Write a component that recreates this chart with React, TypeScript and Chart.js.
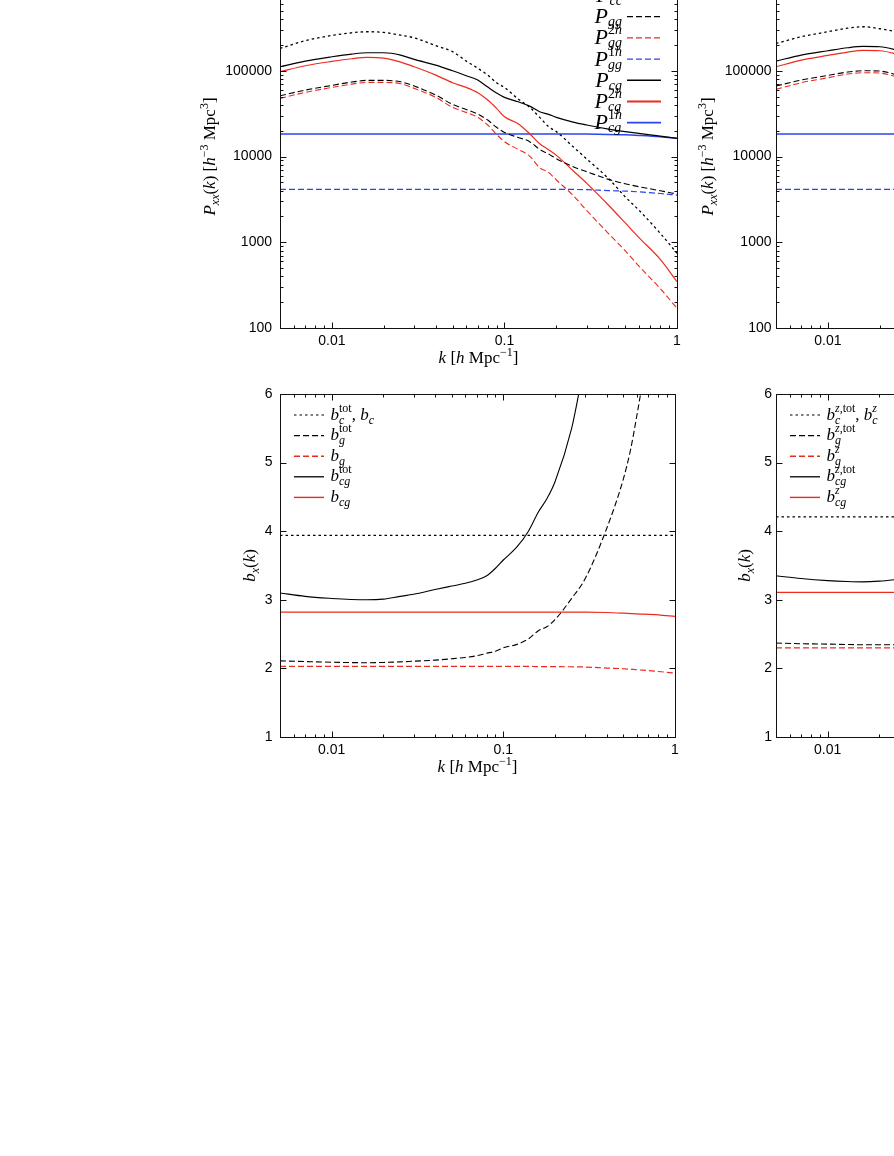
import React, { useEffect, useRef } from 'react';
import { Chart, registerables } from 'chart.js';

Chart.register(...registerables);

const SERIF = '"Liberation Serif", "DejaVu Serif", serif';
const SANS = '"Liberation Sans", Arial, sans-serif';

// ---------------- data: top-left power spectra ----------------
const kGrid = [0.005, 0.007, 0.01, 0.013, 0.016, 0.02, 0.025, 0.03, 0.04, 0.05, 0.06, 0.07, 0.08, 0.09, 0.1, 0.12, 0.14, 0.16, 0.18, 0.2, 0.25, 0.3, 0.4, 0.5, 0.6, 0.8, 1.0];
const Pcc = [182000, 224000, 258000, 277000, 285000, 280000, 260000, 242000, 196000, 167000, 130000, 107000, 89000, 72500, 63900, 46800, 37400, 28600, 22300, 19500, 13000, 9340, 5560, 3400, 2380, 1270, 743];
const Pgg = [51100, 59500, 67500, 73800, 77200, 77200, 74400, 66300, 52000, 40500, 35400, 31300, 26600, 21900, 19100, 16700, 14900, 12100, 10700, 9430, 7600, 6650, 5410, 4820, 4450, 3990, 3650];
const Pgg2h = [47600, 55900, 63900, 69900, 73100, 73100, 70600, 62300, 48900, 37400, 32700, 28600, 23300, 18100, 14900, 12100, 10100, 7400, 6530, 5320, 3520, 2340, 1270, 800, 530, 288, 170];
const Pcg = [111300, 129600, 145600, 156400, 162100, 162100, 152300, 135600, 116400, 100000, 87500, 77900, 64500, 55000, 48900, 43500, 38700, 33300, 31000, 28600, 25200, 23300, 20900, 19500, 18600, 17300, 16300];
const Pcg2h = [97400, 114400, 128500, 138000, 143000, 140500, 126200, 111300, 89000, 72500, 63900, 55400, 45500, 36400, 29100, 24100, 18400, 14100, 12000, 10300, 6830, 4860, 2720, 1690, 1140, 632, 347];
const k1h = [0.005, 0.05, 0.1, 0.2, 0.3, 0.4, 0.5, 0.6, 0.8, 1.0];
const Pgg1h = [4140, 4140, 4140, 4140, 4100, 4000, 3950, 3870, 3700, 3540];
const Pcg1h = [18300, 18300, 18300, 18300, 18250, 18100, 17900, 17600, 17000, 16300];

// ---------------- data: top-right (visible part) ----------------
const kRight = [0.005, 0.007, 0.01, 0.013, 0.016, 0.02, 0.025, 0.03];
const kRightFlat = [0.005, 0.03];
const PzCc = [208000, 249000, 285000, 314000, 326000, 309000, 285000, 260000];
const PzGg = [66300, 77900, 88200, 96500, 100000, 99100, 89800, 80700];
const PzGg2h = [60600, 72500, 82900, 91500, 94800, 93900, 85100, 76500];
const PzGg1h = [4140, 4140];
const PzCg = [129600, 152300, 171100, 185400, 192100, 190400, 174100, 156400];
const PzCg2h = [111300, 133100, 150900, 165000, 172600, 171100, 156400, 139200];
const PzCg1h = [18300, 18300];

// ---------------- data: bottom-left bias ----------------
const kBc = [0.005, 1.0];
const bC = [3.94, 3.94];
const kBgTot = [0.005, 0.007, 0.01, 0.013, 0.016, 0.02, 0.025, 0.03, 0.04, 0.05, 0.06, 0.07, 0.08, 0.09, 0.1, 0.12, 0.14, 0.16, 0.18, 0.2, 0.25, 0.3, 0.4, 0.5, 0.55, 0.6, 0.65];
const bGTot = [2.11, 2.1, 2.09, 2.085, 2.083, 2.087, 2.095, 2.105, 2.12, 2.14, 2.16, 2.185, 2.22, 2.25, 2.3, 2.35, 2.43, 2.55, 2.61, 2.71, 3.02, 3.31, 4.04, 4.76, 5.18, 5.69, 6.2];
const kBflat = [0.005, 0.05, 0.1, 0.2, 0.3, 0.4, 0.5, 0.6, 0.8, 1.0];
const bG = [2.03, 2.03, 2.03, 2.025, 2.02, 2.005, 1.995, 1.98, 1.955, 1.93];
const kBcgTot = [0.005, 0.007, 0.01, 0.013, 0.016, 0.02, 0.025, 0.03, 0.04, 0.05, 0.06, 0.07, 0.08, 0.09, 0.1, 0.12, 0.14, 0.16, 0.18, 0.2, 0.25, 0.28];
const bCgTot = [3.1, 3.05, 3.02, 3.005, 3.0, 3.01, 3.05, 3.08, 3.15, 3.2, 3.24, 3.29, 3.35, 3.46, 3.58, 3.77, 4.0, 4.28, 4.48, 4.72, 5.5, 6.1];
const bCg = [2.82, 2.82, 2.82, 2.82, 2.82, 2.815, 2.805, 2.795, 2.78, 2.757];

// ---------------- data: bottom-right (visible part) ----------------
const bzC = [4.21, 4.21];
const bzGTot = [2.37, 2.36, 2.354, 2.348, 2.345, 2.345, 2.345, 2.347];
const bzG = [2.3, 2.3];
const bzCgTot = [3.35, 3.31, 3.28, 3.267, 3.262, 3.272, 3.296, 3.32];
const bzCg = [3.107, 3.107];

// ---------------- ticks ----------------
const xMajor = [0.01, 0.1, 1];
const xMinor = [0.006, 0.007, 0.008, 0.009, 0.02, 0.03, 0.04, 0.05, 0.06, 0.07, 0.08, 0.09, 0.2, 0.3, 0.4, 0.5, 0.6, 0.7, 0.8, 0.9];
const xLabels = ['0.01', '0.1', '1'];
const pMajor = [100, 1000, 10000, 100000, 1000000];
const pMinor = [200, 300, 400, 500, 600, 700, 800, 900, 2000, 3000, 4000, 5000, 6000, 7000, 8000, 9000, 20000, 30000, 40000, 50000, 60000, 70000, 80000, 90000, 200000, 300000, 400000, 500000, 600000, 700000, 800000, 900000];
const pLabels = ['100', '1000', '10000', '100000', ''];
const bMajor = [1, 2, 3, 4, 5, 6];
const bLabels = ['1', '2', '3', '4', '5', '6'];

// ---------------- styles ----------------
const BLACK = '#000000';
const RED = '#ee2a1e';
const BLUE = '#2a44ee';
const DOT = [2.5, 3];
const DASH = [6, 3];
const SOLID: number[] = [];

type Seg = { t: string; s: number; i?: boolean; dy?: number };
type Item = Seg | { stack: [Seg[], Seg[]] };
const T = (t: string, s: number, i = false, dy = 0): Seg => ({ t, s, i, dy });

const segFont = (sg: Seg) => `${sg.i ? 'italic ' : ''}${sg.s}px ${SERIF}`;
function segsWidth(ctx: CanvasRenderingContext2D, segs: Seg[]) {
  let w = 0;
  for (const s of segs) { ctx.font = segFont(s); w += ctx.measureText(s.t).width; }
  return w;
}
function itemWidth(ctx: CanvasRenderingContext2D, it: Item) {
  if ('stack' in it) return Math.max(segsWidth(ctx, it.stack[0]), segsWidth(ctx, it.stack[1]));
  return segsWidth(ctx, [it]);
}
function drawSegs(ctx: CanvasRenderingContext2D, segs: Seg[], x: number, y: number) {
  let cx = x;
  for (const s of segs) {
    ctx.font = segFont(s);
    ctx.fillText(s.t, cx, y + (s.dy || 0));
    cx += ctx.measureText(s.t).width;
  }
}
function drawRich(ctx: CanvasRenderingContext2D, items: Item[], x: number, y: number, align: 'left' | 'right' | 'center') {
  const widths = items.map((it) => itemWidth(ctx, it));
  const total = widths.reduce((a, b) => a + b, 0);
  let cx = align === 'right' ? x - total : align === 'center' ? x - total / 2 : x;
  ctx.textAlign = 'left';
  ctx.textBaseline = 'alphabetic';
  items.forEach((it, i) => {
    if ('stack' in it) { drawSegs(ctx, it.stack[0], cx, y); drawSegs(ctx, it.stack[1], cx, y); }
    else drawSegs(ctx, [it], cx, y);
    cx += widths[i];
  });
}

// rich-text labels
const kTitle: Item[] = [T('k', 17, true), T(' [', 17), T('h', 17, true), T(' Mpc', 17), T('\u22121', 12, false, -7), T(']', 17)];
const pTitle: Item[] = [T('P', 17, true), T('xx', 12, true, 4), T('(', 17), T('k', 17, true), T(')', 17), T(' [', 17), T('h', 17, true), T('\u22123', 12, false, -7), T(' Mpc', 17), T('3', 12, false, -7), T(']', 17)];
const bTitle: Item[] = [T('b', 17, true), T('x', 12, true, 4), T('(', 17), T('k', 17, true), T(')', 17)];

const Psub = (sub: string, sup?: string): Item[] => [
  T('P', 22, true),
  { stack: [[T(sub, 14, true, 3)], sup ? [T(sup[0], 14, false, -10), T(sup.slice(1), 14, true, -10)] : []] },
];
const bsub = (sub: string, sup: Seg[]): Item[] => [T('b', 17, true), { stack: [[T(sub, 12, true, 4)], sup] }];
const supTot = [T('tot', 12, false, -8)];
const supZ = [T('z', 12, true, -8)];
const supZTot = [T('z', 12, true, -8), T(',tot', 12, false, -8)];

type Row = { items: Item[]; color: string; dash: number[]; width: number };
type Legend = { side: 'left' | 'right'; y0: number; dy: number; base: number; rows: Row[] };

const pLegend: Legend = {
  side: 'right', y0: 10.5, dy: 21.2, base: 6.5,
  rows: [
    { items: Psub('cc'), color: BLACK, dash: DOT, width: 1.3 },
    { items: Psub('gg'), color: BLACK, dash: DASH, width: 1.2 },
    { items: Psub('gg', '2h'), color: RED, dash: DASH, width: 1.2 },
    { items: Psub('gg', '1h'), color: BLUE, dash: DASH, width: 1.2 },
    { items: Psub('cg'), color: BLACK, dash: SOLID, width: 1.6 },
    { items: Psub('cg', '2h'), color: RED, dash: SOLID, width: 1.8 },
    { items: Psub('cg', '1h'), color: BLUE, dash: SOLID, width: 1.8 },
  ],
};
const bLegendL: Legend = {
  side: 'left', y0: 21, dy: 20.6, base: 4.5,
  rows: [
    { items: [...bsub('c', supTot), T(', ', 17), ...bsub('c', [])], color: BLACK, dash: DOT, width: 1.2 },
    { items: bsub('g', supTot), color: BLACK, dash: DASH, width: 1.2 },
    { items: bsub('g', []), color: RED, dash: DASH, width: 1.4 },
    { items: bsub('cg', supTot), color: BLACK, dash: SOLID, width: 1.3 },
    { items: bsub('cg', []), color: RED, dash: SOLID, width: 1.4 },
  ],
};
const bLegendR: Legend = {
  side: 'left', y0: 21, dy: 20.6, base: 4.5,
  rows: [
    { items: [...bsub('c', supZTot), T(', ', 17), ...bsub('c', supZ)], color: BLACK, dash: DOT, width: 1.2 },
    { items: bsub('g', supZTot), color: BLACK, dash: DASH, width: 1.2 },
    { items: bsub('g', supZ), color: RED, dash: DASH, width: 1.4 },
    { items: bsub('cg', supZTot), color: BLACK, dash: SOLID, width: 1.3 },
    { items: bsub('cg', supZ), color: RED, dash: SOLID, width: 1.4 },
  ],
};

const pts = (xs: number[], ys: number[]) => xs.map((x, i) => ({ x, y: ys[i] }));
const line = (label: string, xs: number[], ys: number[], color: string, dash: number[], width = 1) => ({
  label, data: pts(xs, ys), borderColor: color, borderDash: dash, borderWidth: width,
  pointRadius: 0, fill: false, cubicInterpolationMode: 'monotone' as const,
});

type Spec = {
  id: string; left: number; top: number; w: number; h: number; padL: number;
  yType: 'logarithmic' | 'linear'; yMin: number; yMax: number;
  yMajor: number[]; yMinor: number[]; yLabels: string[]; yPad: number;
  yTitle: Item[]; yTitleDx: number; xTitleDy: number;
  legend: Legend; datasets: any[];
};

const specs: Spec[] = [
  {
    id: 'tl', left: 280, top: -15, w: 397, h: 343, padL: 90,
    yType: 'logarithmic', yMin: 100, yMax: 1000000, yMajor: pMajor, yMinor: pMinor, yLabels: pLabels, yPad: 8,
    yTitle: pTitle, yTitleDx: 65, xTitleDy: 35, legend: pLegend,
    datasets: [
      line('Pcc', kGrid, Pcc, BLACK, DOT, 1.3),
      line('Pgg', kGrid, Pgg, BLACK, DASH, 1.1),
      line('Pgg2h', kGrid, Pgg2h, RED, DASH, 1.1),
      line('Pgg1h', k1h, Pgg1h, BLUE, DASH, 1.2),
      line('Pcg', kGrid, Pcg, BLACK, SOLID, 1.2),
      line('Pcg2h', kGrid, Pcg2h, RED, SOLID, 1.2),
      line('Pcg1h', k1h, Pcg1h, BLUE, SOLID, 1.5),
    ],
  },
  {
    id: 'tr', left: 776, top: -15, w: 397, h: 343, padL: 90,
    yType: 'logarithmic', yMin: 100, yMax: 1000000, yMajor: pMajor, yMinor: pMinor, yLabels: pLabels, yPad: 4.5,
    yTitle: pTitle, yTitleDx: 63, xTitleDy: 35, legend: pLegend,
    datasets: [
      line('PzCc', kRight, PzCc, BLACK, DOT, 1.3),
      line('PzGg', kRight, PzGg, BLACK, DASH, 1.1),
      line('PzGg2h', kRight, PzGg2h, RED, DASH, 1.1),
      line('PzGg1h', kRightFlat, PzGg1h, BLUE, DASH, 1.2),
      line('PzCg', kRight, PzCg, BLACK, SOLID, 1.2),
      line('PzCg2h', kRight, PzCg2h, RED, SOLID, 1.2),
      line('PzCg1h', kRightFlat, PzCg1h, BLUE, SOLID, 1.5),
    ],
  },
  {
    id: 'bl', left: 280, top: 394, w: 395, h: 343, padL: 90,
    yType: 'linear', yMin: 1, yMax: 6, yMajor: bMajor, yMinor: [], yLabels: bLabels, yPad: 7.5,
    yTitle: bTitle, yTitleDx: 25, xTitleDy: 34.5, legend: bLegendL,
    datasets: [
      line('bc', kBc, bC, BLACK, DOT, 1.2),
      line('bgtot', kBgTot, bGTot, BLACK, DASH, 1.1),
      line('bg', kBflat, bG, RED, DASH, 1.2),
      line('bcgtot', kBcgTot, bCgTot, BLACK, SOLID, 1.1),
      line('bcg', kBflat, bCg, RED, SOLID, 1.2),
    ],
  },
  {
    id: 'br', left: 776, top: 394, w: 395, h: 343, padL: 90,
    yType: 'linear', yMin: 1, yMax: 6, yMajor: bMajor, yMinor: [], yLabels: bLabels, yPad: 4,
    yTitle: bTitle, yTitleDx: 26, xTitleDy: 34.5, legend: bLegendR,
    datasets: [
      line('bzc', kRightFlat, bzC, BLACK, DOT, 1.2),
      line('bzgtot', kRight, bzGTot, BLACK, DASH, 1.1),
      line('bzg', kRightFlat, bzG, RED, DASH, 1.2),
      line('bzcgtot', kRight, bzCgTot, BLACK, SOLID, 1.1),
      line('bzcg', kRightFlat, bzCg, RED, SOLID, 1.2),
    ],
  },
];

const PAD_TOP = 24;
const PAD_RIGHT = 10;
const X_AXIS_H = 50;

const near = (a: number, b: number) => Math.abs(a - b) < 1e-9 * Math.max(1, Math.abs(b));

function decoPlugin(spec: Spec) {
  return {
    id: 'deco_' + spec.id,
    afterDraw(chart: any) {
      const ctx: CanvasRenderingContext2D = chart.ctx;
      const a = chart.chartArea;
      const xs = chart.scales.x;
      const ys = chart.scales.y;
      ctx.save();
      ctx.strokeStyle = '#111';
      ctx.lineWidth = 1;
      ctx.setLineDash([]);
      ctx.beginPath();
      const L = Math.round(a.left) + 0.5, R = Math.round(a.right) + 0.5;
      const Tp = Math.round(a.top) + 0.5, B = Math.round(a.bottom) + 0.5;
      const tx = (vals: number[], len: number) => vals.forEach((v) => {
        const p = Math.round(xs.getPixelForValue(v)) + 0.5;
        ctx.moveTo(p, B); ctx.lineTo(p, B - len);
        ctx.moveTo(p, Tp); ctx.lineTo(p, Tp + len);
      });
      const ty = (vals: number[], len: number) => vals.forEach((v) => {
        const p = Math.round(ys.getPixelForValue(v)) + 0.5;
        ctx.moveTo(L, p); ctx.lineTo(L + len, p);
        ctx.moveTo(R, p); ctx.lineTo(R - len, p);
      });
      tx(xMajor, 6); tx(xMinor, 3); ty(spec.yMajor, 6); ty(spec.yMinor, 3);
      ctx.stroke();
      ctx.strokeRect(L, Tp, R - L, B - Tp);

      ctx.fillStyle = '#000';
      drawRich(ctx, kTitle, (a.left + a.right) / 2, a.bottom + spec.xTitleDy, 'center');
      ctx.save();
      ctx.translate(a.left - spec.yTitleDx, (a.top + a.bottom) / 2);
      ctx.rotate(-Math.PI / 2);
      drawRich(ctx, spec.yTitle, 0, 0, 'center');
      ctx.restore();

      const lg = spec.legend;
      lg.rows.forEach((r, i) => {
        const y = a.top + lg.y0 + i * lg.dy;
        let x1: number, x2: number, lx: number;
        if (lg.side === 'right') { x1 = a.right - 50; x2 = a.right - 16; lx = a.right - 55; }
        else { x1 = a.left + 14; x2 = a.left + 44; lx = a.left + 50.5; }
        ctx.beginPath();
        ctx.strokeStyle = r.color;
        ctx.lineWidth = r.width;
        ctx.setLineDash(r.dash);
        ctx.moveTo(x1, y); ctx.lineTo(x2, y);
        ctx.stroke();
        ctx.setLineDash([]);
        ctx.fillStyle = '#000';
        drawRich(ctx, r.items, lx, y + lg.base, lg.side === 'right' ? 'right' : 'left');
      });
      ctx.restore();
    },
  };
}

function makeConfig(spec: Spec): any {
  const tickFont = { family: SANS, size: 14 };
  return {
    type: 'line',
    data: { datasets: spec.datasets },
    options: {
      responsive: false,
      animation: false,
      devicePixelRatio: 1,
      layout: { padding: { top: PAD_TOP, right: PAD_RIGHT, left: 0, bottom: 0 } },
      plugins: { legend: { display: false }, tooltip: { enabled: false } },
      scales: {
        x: {
          type: 'logarithmic', min: 0.005, max: 1, position: 'bottom',
          afterBuildTicks: (s: any) => { s.ticks = xMajor.map((v) => ({ value: v })); },
          afterFit: (s: any) => { s.height = X_AXIS_H; },
          grid: { display: false, drawTicks: false, tickLength: 0 },
          border: { display: false },
          ticks: {
            autoSkip: false, maxRotation: 0, minRotation: 0, padding: 5, color: '#000', font: tickFont,
            callback: (v: number) => { const i = xMajor.findIndex((m) => near(v, m)); return i >= 0 ? xLabels[i] : ''; },
          },
        },
        y: {
          type: spec.yType, min: spec.yMin, max: spec.yMax, position: 'left',
          afterBuildTicks: (s: any) => { s.ticks = spec.yMajor.map((v) => ({ value: v })); },
          afterFit: (s: any) => { s.width = spec.padL; },
          grid: { display: false, drawTicks: false, tickLength: 0 },
          border: { display: false },
          ticks: {
            autoSkip: false, padding: spec.yPad, color: '#000', font: tickFont,
            callback: (v: number) => { const i = spec.yMajor.findIndex((m) => near(v, m)); return i >= 0 ? spec.yLabels[i] : ''; },
          },
        },
      },
    },
    plugins: [decoPlugin(spec)],
  };
}

function Panel({ spec }: { spec: Spec }) {
  const ref = useRef<HTMLCanvasElement>(null);
  useEffect(() => {
    if (!ref.current) return;
    const chart = new Chart(ref.current, makeConfig(spec));
    return () => chart.destroy();
  }, [spec]);
  const W = spec.padL + spec.w + PAD_RIGHT;
  const H = PAD_TOP + spec.h + X_AXIS_H;
  return (
    <canvas
      ref={ref}
      width={W}
      height={H}
      style={{ position: 'absolute', left: spec.left - spec.padL, top: spec.top - PAD_TOP, width: W, height: H }}
    />
  );
}

export default function App() {
  return (
    <div style={{ position: 'fixed', left: 0, top: 0, width: 894, height: 1156, overflow: 'hidden', background: '#fff' }}>
      {specs.map((s) => <Panel key={s.id} spec={s} />)}
    </div>
  );
}
